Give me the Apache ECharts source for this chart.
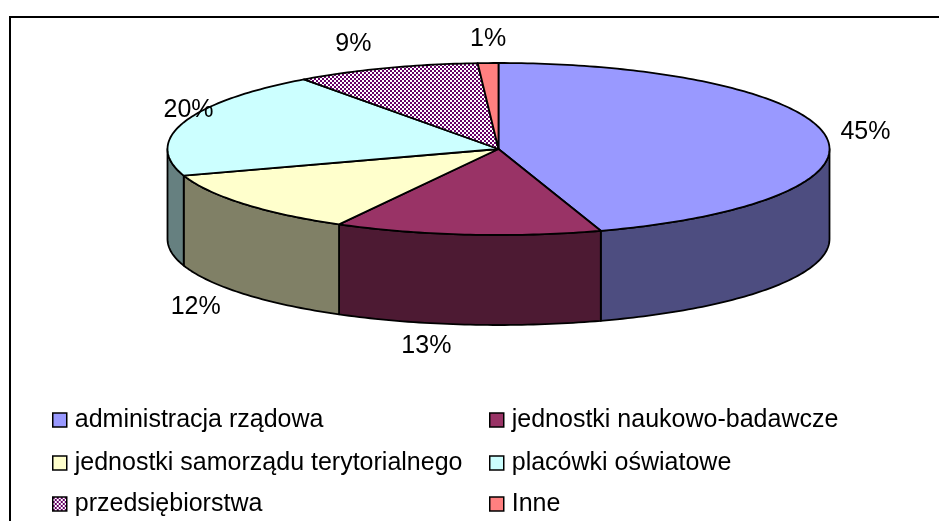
<!DOCTYPE html>
<html><head><meta charset="utf-8">
<script src="https://cdn.jsdelivr.net/npm/echarts@6/dist/echarts.min.js"></script>
<style>html,body{margin:0;padding:0;background:#fff}#c{width:939px;height:521px}</style>
</head><body><div id="c"></div>
<script>
// ---- data ----
const categories = ['administracja rządowa','jednostki naukowo-badawcze','jednostki samorządu terytorialnego','placówki oświatowe','przedsiębiorstwa','Inne'];
const shares = [45, 13, 12, 20, 9, 1];
const shareLabels = ['45%', '13%', '12%', '20%', '9%', '1%'];

// ---- styles ----
const pc = document.createElement('canvas'); pc.width = 4; pc.height = 4;
const g = pc.getContext('2d');
g.fillStyle = '#ffffff'; g.fillRect(0, 0, 4, 4);
g.fillStyle = '#660066'; g.fillRect(0, 0, 2, 2); g.fillRect(2, 2, 2, 2);
const checker = { image: pc, repeat: 'repeat' };
const topColors = ['#9999FF', '#993366', '#FFFFCC', '#CCFFFF', checker, '#FF8080'];
const sideColors = ['#4D4D80', '#4D1A33', '#808066', '#668080', '#330033', '#804040'];

const total = shares.reduce((a, b) => a + b, 0);
const starts = [];
shares.reduce((acc, v) => { starts.push(acc); return acc + v; }, 0);

const CX = 498.5, CY = 149, RX = 331, RY = 86, DEPTH = 90;
const FONT = 'Liberation Sans, Arial, sans-serif';
const LABEL_SIZE = 25;
const LINE_W = 1.8;
const mctx = document.createElement('canvas').getContext('2d');
mctx.font = LABEL_SIZE + 'px "Liberation Sans", Arial, sans-serif';

function makeRender(i) {
  return function (params, api) {
    const start = api.value(0), val = api.value(1);
    const t0 = 90 - 360 * start / total, t1 = 90 - 360 * (start + val) / total;
    const rad = d => d * Math.PI / 180;
    const pt = (d, dy) => [CX + RX * Math.cos(rad(d)), CY - RY * Math.sin(rad(d)) + (dy || 0)];
    const arc = (a, b, dy) => {
      const pts = []; const n = Math.max(2, Math.ceil(Math.abs(a - b)));
      for (let k = 0; k <= n; k++) pts.push(pt(a + (b - a) * k / n, dy));
      return pts;
    };
    const children = [];
    const s0 = Math.min(t0, 0), s1 = Math.max(t1, -180);
    if (s0 > s1) {
      const top = arc(s0, s1, 0), bot = arc(s1, s0, DEPTH);
      children.push({ type: 'polygon', shape: { points: top.concat(bot) },
        style: { fill: sideColors[i], stroke: '#000', lineWidth: LINE_W, lineJoin: 'round' } });
    }
    children.push({ type: 'polygon', shape: { points: [[CX, CY]].concat(arc(t0, t1, 0)) },
      style: { fill: topColors[i], stroke: '#000', lineWidth: LINE_W, lineJoin: 'round' } });

    // label: anchored to the rim at the slice's mid angle, placed outside
    const md = (t0 + t1) / 2, c = Math.cos(rad(md)), s = Math.sin(rad(md));
    const A = pt(md, s < 0 ? DEPTH : 0);
    const w = mctx.measureText(shareLabels[i]).width;
    let lx;
    if (c > 0.05) lx = A[0] + 15;
    else if (c < -0.05) lx = A[0] - 15 - w - (s < 0 ? 10 * Math.abs(c) : 0);
    else lx = A[0] - w / 2;
    lx = Math.max(lx, CX - RX - 4);
    let ty;
    if (s >= 0.5) ty = A[1] - 24;
    else if (s >= 0) ty = A[1] - 60 * s + 6;
    else ty = A[1] + 25 * Math.abs(s) - 3;
    children.push({ type: 'text', x: lx, y: ty,
      style: { text: shareLabels[i], fill: '#000', fontSize: LABEL_SIZE, fontFamily: FONT, align: 'left', verticalAlign: 'middle' } });
    return { type: 'group', children };
  };
}

const series = categories.map((name, i) => ({
  type: 'custom', name, coordinateSystem: 'none', silent: true,
  itemStyle: { color: topColors[i] },
  renderItem: makeRender(i),
  data: [[starts[i], shares[i]]]
}));

// legend: two columns, three rows (Excel order: row-major)
const colLeft = [52, 489];
const rowTop = [407, 450, 491];
const legends = categories.map((name, i) => ({
  left: colLeft[i % 2], top: rowTop[Math.floor(i / 2)], padding: 0,
  orient: 'horizontal', data: [name],
  itemWidth: 14, itemHeight: 14, icon: 'rect', selectedMode: false,
  itemStyle: { borderColor: '#000', borderWidth: 1.5 },
  textStyle: { fontSize: 25, fontFamily: FONT, color: '#000', lineHeight: 26, padding: [0, 0, 0, 3] }
}));

const chart = echarts.init(document.getElementById('c'), null, { renderer: 'canvas' });
chart.setOption({
  animation: false,
  backgroundColor: '#fff',
  graphic: [{ type: 'rect', shape: { x: 10, y: 17, width: 980, height: 560 },
    style: { fill: 'none', stroke: '#000', lineWidth: 2 } }],
  legend: legends,
  series
});
</script></body></html>
